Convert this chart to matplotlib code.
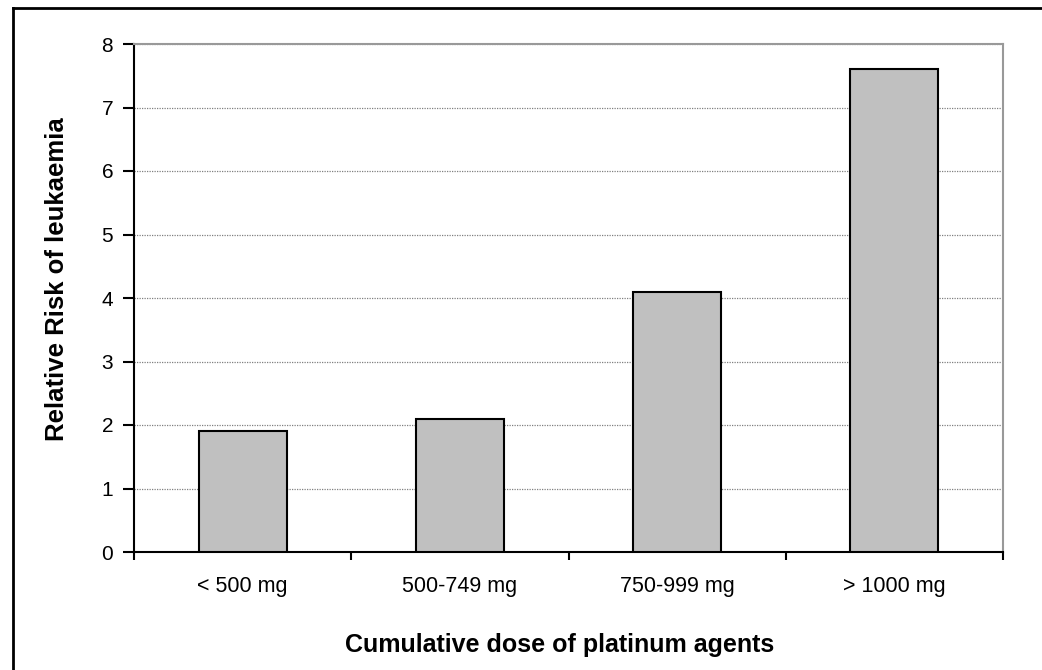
import matplotlib
matplotlib.use("Agg")
import matplotlib.pyplot as plt
from matplotlib.lines import Line2D

categories = ["< 500 mg", "500-749 mg", "750-999 mg", "> 1000 mg"]
relative_risk = [1.9, 2.1, 4.1, 7.6]
y_ticks = [0, 1, 2, 3, 4, 5, 6, 7, 8]
x_label = "Cumulative dose of platinum agents"
y_label = "Relative Risk of leukaemia"

plt.rcParams['font.family'] = ['Liberation Sans', 'DejaVu Sans']

W, H = 1042, 670
fig = plt.figure(figsize=(W / 100, H / 100), dpi=100)
ax = fig.add_axes([134 / W, 1 - 552 / H, (1003 - 134) / W, (552 - 44) / H])

x = list(range(len(categories)))
ax.bar(x, relative_risk, width=0.405, color="#C0C0C0", edgecolor="black",
       linewidth=1.5, zorder=3)

ax.set_xlim(-0.5, len(categories) - 0.5)
ax.set_ylim(0, 8)
ax.set_yticks(y_ticks)
ax.set_yticklabels([str(v) for v in y_ticks], fontsize=15)
ax.set_xticks(x)
ax.set_xticklabels(categories, fontsize=15.5)
ax.tick_params(axis='x', length=0, pad=17)
ax.tick_params(axis='y', length=8, width=1.5, direction='out', pad=7)

# boundary ticks between categories
ax.set_xticks([i - 0.5 for i in range(len(categories) + 1)], minor=True)
ax.tick_params(axis='x', which='minor', length=6, width=1.5, direction='out')

ax.yaxis.grid(True, color="#808080", linestyle=(0, (1, 1)), linewidth=0.9, zorder=0)
ax.set_axisbelow(True)

for s in ['left', 'bottom']:
    ax.spines[s].set_color('black')
    ax.spines[s].set_linewidth(1.5)
for s in ['top', 'right']:
    ax.spines[s].set_color('#999999')
    ax.spines[s].set_linewidth(1.5)

ax.set_xlabel(x_label, fontsize=18, fontweight='bold')
ax.xaxis.set_label_coords(0.49, -0.183, transform=ax.transAxes)
ax.xaxis.label.set_va('center')
ax.set_ylabel(y_label, fontsize=18.5, fontweight='bold')
ax.yaxis.set_label_coords(-0.089, 0.537, transform=ax.transAxes)
ax.yaxis.label.set_va('center')

# figure border (only left and top visible)
fig.add_artist(Line2D([12.5 / W, 12.5 / W], [0, 1 - 8 / H], color='black', lw=2,
                      transform=fig.transFigure))
fig.add_artist(Line2D([12.5 / W, 1], [1 - 8 / H, 1 - 8 / H], color='black', lw=2,
                      transform=fig.transFigure))

fig.savefig("out.png", dpi=100)
